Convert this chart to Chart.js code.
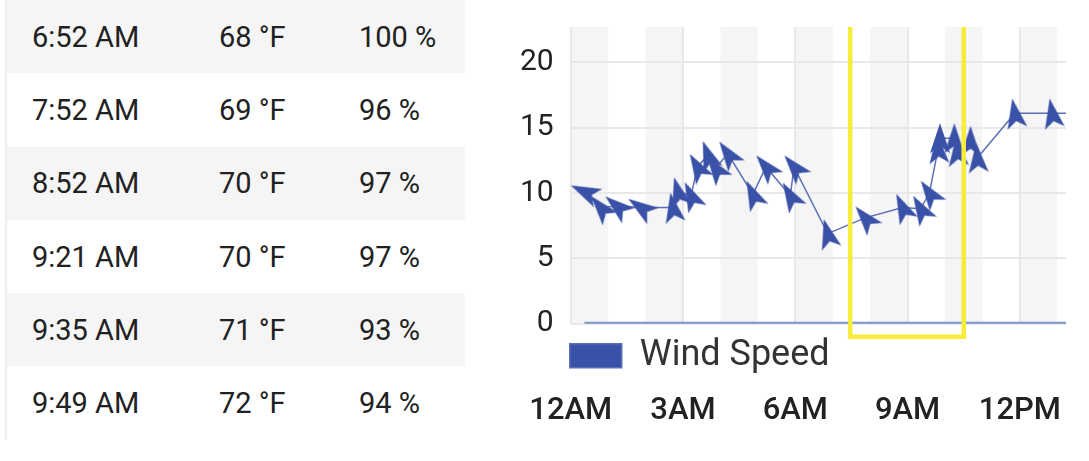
<!DOCTYPE html>
<html>
<head>
<meta charset="utf-8">
<script src="https://cdn.jsdelivr.net/npm/chart.js@4.4.0/dist/chart.umd.min.js"></script>
<style>
  html, body { margin: 0; padding: 0; background: #fff; width: 1089px; height: 461px; overflow: hidden; font-family: Roboto, sans-serif; }
  table { position: absolute; left: 5px; top: 0; width: 459px; border-collapse: collapse; table-layout: fixed; border-left: 2px solid #eeeeee; }
  td { height: 73.3px; padding: 0; font-size: 29px; color: #212121; white-space: nowrap; }
  tr:nth-child(odd) td { background: #f5f5f5; }
  td.t { padding-left: 25px; }
  #chartBox { position: absolute; left: 490px; top: -8px; width: 599px; height: 469px; }
</style>
</head>
<body>
<table>
  <colgroup><col style="width:213px"><col style="width:140px"><col style="width:106px"></colgroup>
  <tbody id="obs"></tbody>
</table>
<div id="chartBox"><canvas id="windChart"></canvas></div>
<script>
'use strict'

// table rows
const rowTimes = ['6:52 AM', '7:52 AM', '8:52 AM', '9:21 AM', '9:35 AM', '9:49 AM'];
const rowTemps = [68, 69, 70, 70, 71, 72];
const rowHumidity = [100, 96, 97, 97, 93, 94];

// wind observations (hours since midnight)
const obsTimes = ['0:22', '0:48', '1:14', '1:52', '2:44', '2:52', '3:13', '3:23', '3:40', '3:52',
  '4:12', '4:52', '5:13', '5:52', '5:58', '6:52', '7:52', '8:52', '9:21', '9:35',
  '9:49', '9:52', '10:15', '10:20', '10:41', '10:52', '11:52', '12:52', '13:52'];
const windSpeed = [10.1, 8.9, 9.0, 8.9, 8.9, 10.1, 9.8, 12.0, 12.9, 11.9,
  13.0, 9.9, 12.0, 9.8, 12.0, 6.9, 8.1, 8.9, 8.8, 10.0,
  13.4, 14.2, 14.2, 13.2, 14.0, 12.7, 16.1, 16.1, 16.1];
const windDir = [295, 320, 310, 305, 350, 345, 335, 330, 340, 325,
  325, 335, 320, 330, 320, 345, 320, 335, 330, 325,
  355, 0, 0, 355, 0, 355, 350, 350, 350];
const gustSpeed = [0, 0, 0, 0, 0, 0, 0, 0, 0, 0,
  0, 0, 0, 0, 0, 0, 0, 0, 0, 0,
  0, 0, 0, 0, 0, 0, 0, 0, 0];

const axisEnd = '13:14';
const hourTicks = [0, 3, 6, 9, 12];
const speedTicks = [0, 5, 10, 15, 20];
const shadedHours = [0, 2, 4, 6, 8, 10, 12];
const highlightRange = ['7:28', '10:30'];

function toHours(s) {
  const p = s.split(':');
  return Number(p[0]) + Number(p[1]) / 60;
}

function hourLabel(h) {
  if (h === 0) return '12AM';
  if (h === 12) return '12PM';
  return h < 12 ? h + 'AM' : (h - 12) + 'PM';
}

// fill the table
const tbody = document.getElementById('obs');
for (let i = 0; i < rowTimes.length; i++) {
  let tr = document.createElement('tr');
  tr.innerHTML = '<td class="t">' + rowTimes[i] + '</td><td>' + rowTemps[i] + ' °F</td><td>' + rowHumidity[i] + ' %</td>';
  tbody.appendChild(tr);
}

// arrow marker
function makeArrow() {
  const c = document.createElement('canvas');
  c.width = 34;
  c.height = 34;
  const g = c.getContext('2d');
  g.fillStyle = '#3a51a8';
  g.beginPath();
  g.moveTo(17, 2);
  g.lineTo(27, 32);
  g.lineTo(17, 25);
  g.lineTo(7, 32);
  g.closePath();
  g.fill();
  return c;
}
const arrow = makeArrow();

const hourBands = {
  id: 'hourBands',
  beforeDraw(chart) {
    const {ctx, chartArea, scales} = chart;
    ctx.save();
    ctx.fillStyle = '#f5f5f5';
    shadedHours.forEach(h => {
      let x1 = Math.max(scales.x.getPixelForValue(h), chartArea.left);
      let x2 = Math.min(scales.x.getPixelForValue(h + 1), chartArea.right);
      if (x2 > x1) ctx.fillRect(x1, chartArea.top, x2 - x1, chartArea.bottom - chartArea.top);
    });
    ctx.restore();
  }
};

const highlight = {
  id: 'highlight',
  afterDatasetsDraw(chart) {
    const {ctx, chartArea, scales} = chart;
    const x1 = scales.x.getPixelForValue(toHours(highlightRange[0]));
    const x2 = scales.x.getPixelForValue(toHours(highlightRange[1]));
    ctx.save();
    ctx.strokeStyle = '#f8ec3b';
    ctx.lineWidth = 4.5;
    ctx.beginPath();
    ctx.moveTo(x1, chartArea.top);
    ctx.lineTo(x1, chartArea.bottom + 13);
    ctx.lineTo(x2, chartArea.bottom + 13);
    ctx.lineTo(x2, chartArea.top);
    ctx.stroke();
    ctx.restore();
  }
};

const legendShift = {
  id: 'legendShift',
  afterLayout(chart) {
    chart.legend.left -= 15;
    chart.legend.right -= 15;
  }
};

const data = {
  datasets: [{
    label: 'Wind Speed',
    data: obsTimes.map((t, i) => ({x: toHours(t), y: windSpeed[i]})),
    borderColor: '#5a6fb5',
    backgroundColor: '#3a51a8',
    borderWidth: 1.5,
    pointStyle: arrow,
    rotation: windDir,
    pointRadius: 16
  },
  {
    label: 'Wind Gust',
    data: obsTimes.map((t, i) => ({x: toHours(t), y: gustSpeed[i]})),
    borderColor: '#7b94c8',
    backgroundColor: '#7b94c8',
    borderWidth: 4,
    pointRadius: 0
  }]
};

const config = {
  type: 'line',
  data: data,
  options: {
    responsive: true,
    maintainAspectRatio: false,
    animation: false,
    layout: { padding: { left: 13, right: 23, top: 21, bottom: 22 } },
    plugins: {
      legend: {
        position: 'bottom',
        align: 'start',
        fullSize: false,
        labels: {
          boxWidth: 52,
          boxHeight: 24,
          padding: 14,
          color: '#333',
          font: { family: 'Roboto', size: 36 },
          filter: item => item.datasetIndex === 0
        }
      },
      tooltip: { enabled: false }
    },
    scales: {
      x: {
        type: 'linear',
        min: 0,
        max: toHours(axisEnd),
        weight: 2000,
        border: { display: false },
        grid: { color: '#e8e8e8', lineWidth: 2, drawTicks: false },
        afterBuildTicks: axis => { axis.ticks = hourTicks.map(v => ({value: v})); },
        ticks: {
          padding: 9,
          color: '#222',
          font: { family: 'Roboto', size: 31, weight: 500 },
          callback: v => hourLabel(v)
        }
      },
      y: {
        min: 0,
        max: 22.7,
        border: { display: false },
        grid: { color: '#e8e8e8', lineWidth: 2, drawTicks: false },
        afterBuildTicks: axis => { axis.ticks = speedTicks.map(v => ({value: v})); },
        ticks: {
          padding: 17,
          color: '#222',
          font: { family: 'Roboto', size: 30 }
        }
      }
    }
  },
  plugins: [hourBands, highlight, legendShift]
};

const windChart = new Chart(document.getElementById('windChart'), config);
</script>
</body>
</html>
